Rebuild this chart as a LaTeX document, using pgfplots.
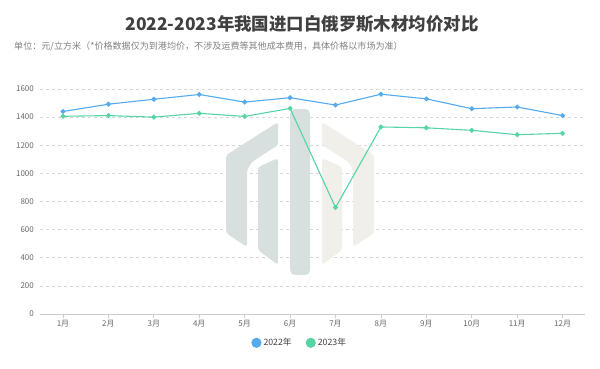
\documentclass[border=0pt]{standalone}
\usepackage{pgfplots}
\pgfplotsset{compat=1.18}
\usepackage{fontspec}
\setmainfont{Noto Sans CJK SC}
\definecolor{c22}{HTML}{55AAEE}
\definecolor{c23}{HTML}{55D4A4}
\definecolor{wmA}{HTML}{D8E0DF}
\definecolor{wmB}{HTML}{F1EFEA}
\definecolor{txt}{HTML}{666666}
\begin{document}
\begin{tikzpicture}[x=1bp,y=1bp]
\useasboundingbox (0,0) rectangle (600,368);
\node[font=\fontsize{17.5}{20}\selectfont\bfseries, text=black!75] at (302,344) {2022-2023年我国进口白俄罗斯木材均价对比};
\node[anchor=west, font=\fontsize{9.1}{10}\selectfont, text=black!50, inner sep=0] at (14,321.5) {单位：元/立方米（*价格数据仅为到港均价，不涉及运费等其他成本费用，具体价格以市场为准）};
\begin{axis}[
  at={(40.3bp,54bp)}, anchor=south west,
  scale only axis, width=545bp, height=225bp,
  xmin=0.5, xmax=12.5, ymin=0, ymax=1600,
  xtick={1,...,12},
  xticklabels={1月,2月,3月,4月,5月,6月,7月,8月,9月,10月,11月,12月},
  ytick={0,200,...,1600},
  axis x line*=bottom, axis y line*=left,
  x axis line style={draw=black!20, line width=0.8pt, -},
  y axis line style={draw=none},
  xtick style={draw=black!20, line width=0.8pt},
  tick align=outside, major tick length=4bp,
  ymajorgrids, grid style={draw=black!16, dash pattern=on 3bp off 3bp, line width=0.6pt},
  ytick style={draw=none},
  yticklabel style={font=\fontsize{8}{9}\selectfont, text=txt, xshift=1bp},
  xticklabel style={font=\fontsize{8}{9}\selectfont, text=txt, yshift=1bp},
  /pgf/number format/assume math mode=true,
  yticklabel={\pgfmathprintnumber[assume math mode=true,1000 sep={}]{\tick}},
  legend columns=2,
  legend style={at={(0.476,-0.128)}, anchor=center, draw=none, fill=none,
    font=\fontsize{8.8}{10}\selectfont, text=black!75,
    /tikz/every even column/.append style={column sep=12bp}},
  legend image code/.code={\fill (0.25em,0) circle (4.5bp);},
  clip=false,
]
% watermark
\fill[wmA, rounded corners=3bp] (4.590,1130) -- (5.736,1365) -- (5.736,1202) -- (5.16,1081) -- (5.053,1024) -- (5.053,476) -- (4.590,576) -- cycle;
\fill[wmA, rounded corners=3bp] (5.295,1045) -- (5.736,1109) -- (5.736,348) -- (5.295,455) -- cycle;
\fill[wmA, rounded corners=5bp] (6.0,277) rectangle (6.44,1458);
\fill[wmB, rounded corners=3bp] (7.85,1130) -- (6.704,1365) -- (6.704,1202) -- (7.28,1081) -- (7.387,1024) -- (7.387,476) -- (7.85,576) -- cycle;
\fill[wmB, rounded corners=3bp] (7.145,1045) -- (6.704,1109) -- (6.704,348) -- (7.145,455) -- cycle;
\addplot[c22, line width=1.1pt, mark=*, mark size=1.9bp, mark options={fill=c22, draw=c22}]
 coordinates {(1,1440) (2,1492) (3,1527) (4,1561) (5,1507) (6,1538) (7,1486) (8,1563) (9,1530) (10,1460) (11,1472) (12,1411)};
\addlegendentry{2022年}
\addplot[c23, line width=1.1pt, mark=*, mark size=1.9bp, mark options={fill=c23, draw=c23}]
 coordinates {(1,1406) (2,1411) (3,1400) (4,1427) (5,1405) (6,1462) (7,757) (8,1330) (9,1324) (10,1306) (11,1275) (12,1285)};
\addlegendentry{2023年}
\end{axis}
\end{tikzpicture}
\end{document}
